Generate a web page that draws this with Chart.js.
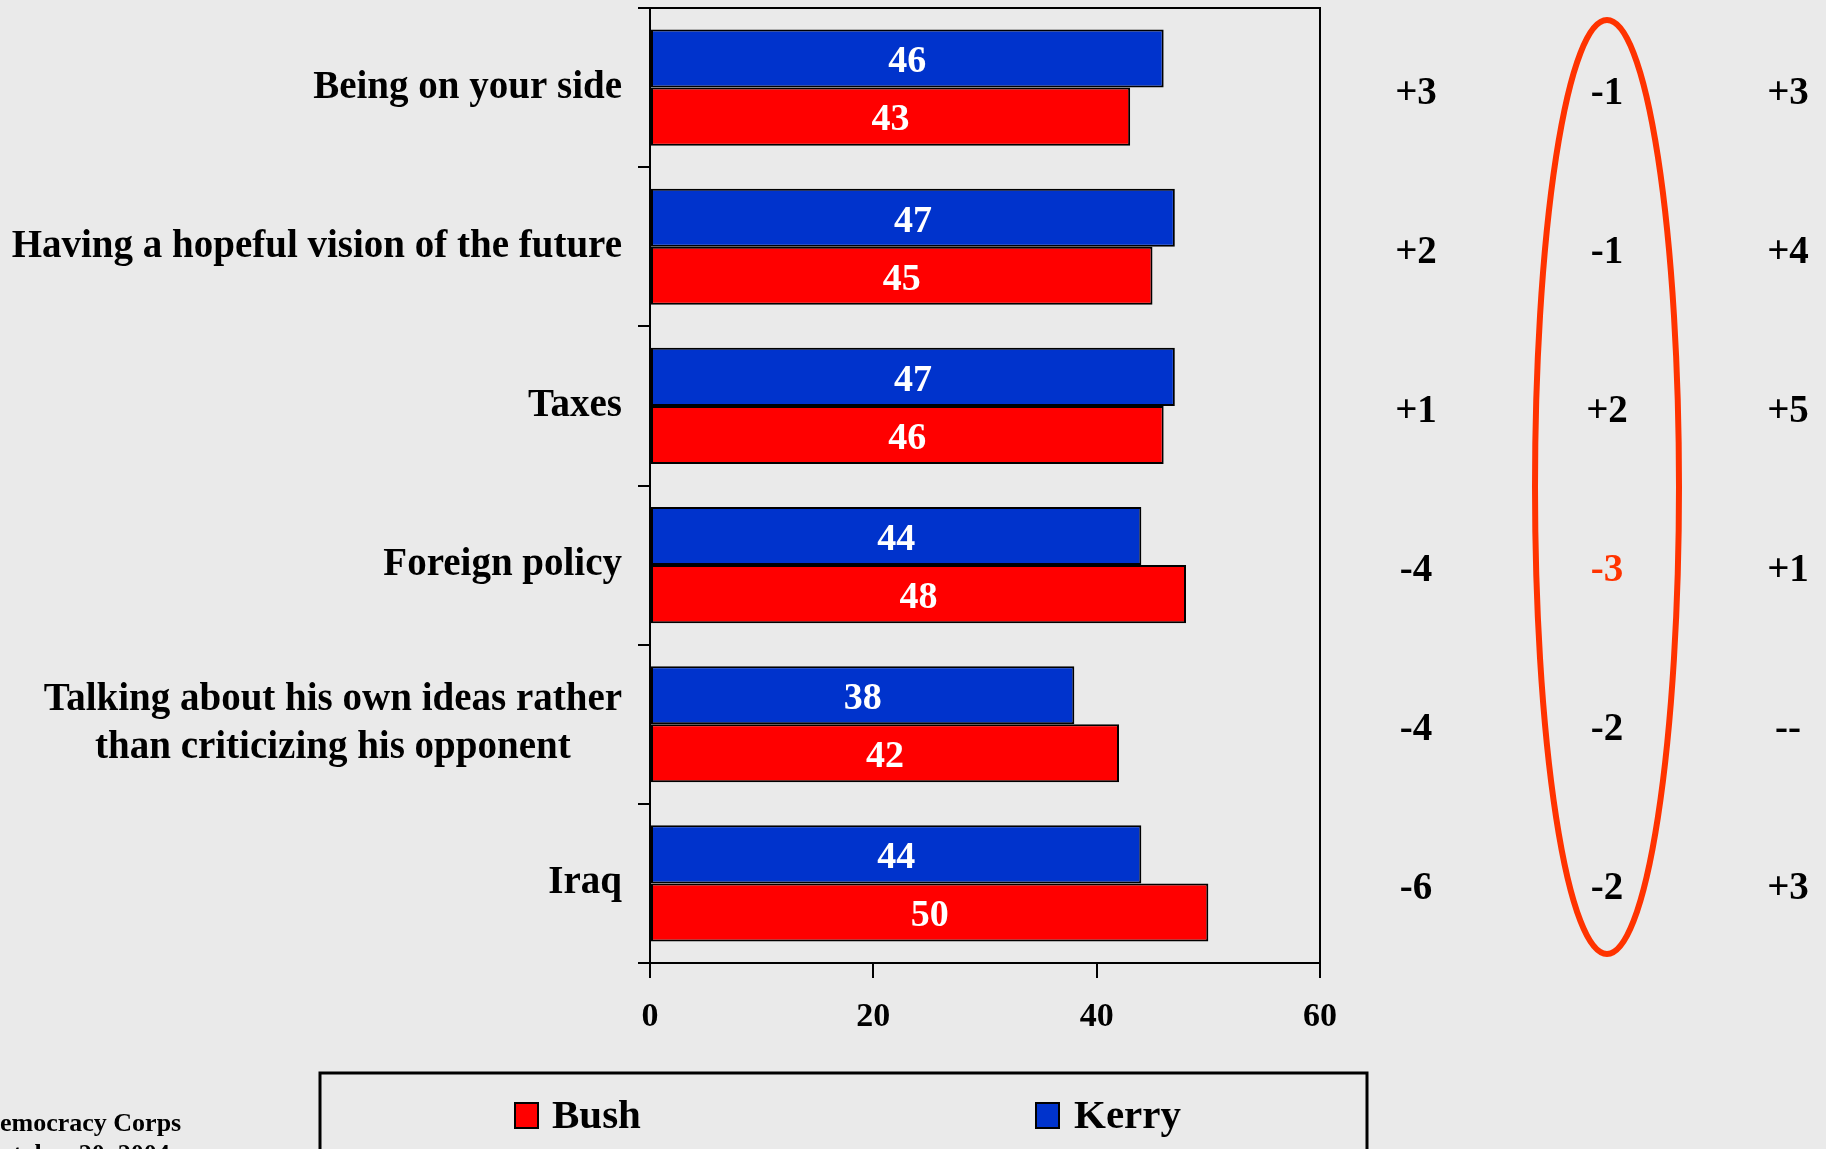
<!DOCTYPE html>
<html>
<head>
<meta charset="utf-8">
<script src="https://cdn.jsdelivr.net/npm/chart.js@4"></script>
<style>
  html, body { margin: 0; padding: 0; background: #eaeaea; overflow: hidden; }
  #wrap { width: 1826px; height: 1149px; }
</style>
</head>
<body>
<div id="wrap"><canvas id="chart" width="1826" height="1149"></canvas></div>
<script>
/* ── Data ── */
const categories = [
    'Being on your side',
    'Having a hopeful vision of the future',
    'Taxes',
    'Foreign policy',
    ['Talking about his own ideas rather', 'than criticizing his opponent'],
    'Iraq'
];
const kerryValues = [46, 47, 47, 44, 38, 44];
const bushValues = [43, 45, 46, 48, 42, 50];
const xTickValues = [0, 20, 40, 60];

// difference columns on the right
const diffCol1 = ['+3', '+2', '+1', '-4', '-4', '-6'];
const diffCol2 = ['-1', '-1', '+2', '-3', '-2', '-2'];
const diffCol3 = ['+3', '+4', '+5', '+1', '--', '+3'];
const highlightRow = 3;

const sourceLines = ['Democracy Corps', 'October 20, 2004'];

const SERIF = "'Liberation Serif', 'Times New Roman', serif";
const BLUE = '#0033cc';
const RED = '#ff0000';
const ORANGE = '#ff3300';

/* ── Custom drawing ── */
const decorPlugin = {
    id: 'decor',
    beforeDraw(chart) {
        const ctx = chart.ctx;
        ctx.save();
        ctx.fillStyle = '#eaeaea';
        ctx.fillRect(0, 0, chart.width, chart.height);
        ctx.restore();
    },
    afterDatasetsDraw(chart) {
        const ctx = chart.ctx;
        const area = chart.chartArea;
        const yScale = chart.scales.y;

        ctx.save();
        // frame
        ctx.strokeStyle = '#000';
        ctx.lineWidth = 2;
        ctx.strokeRect(area.left, area.top, area.right - area.left, area.bottom - area.top);

        // bar value labels
        ctx.fillStyle = '#fff';
        ctx.font = 'bold 38px ' + SERIF;
        ctx.textAlign = 'center';
        ctx.textBaseline = 'middle';
        chart.data.datasets.forEach((ds, di) => {
            chart.getDatasetMeta(di).data.forEach((bar, i) => {
                ctx.fillText(String(ds.data[i]), (bar.base + bar.x) / 2, bar.y + 4);
            });
        });

        // category labels
        ctx.fillStyle = '#000';
        ctx.font = 'bold 39px ' + SERIF;
        const rightEdge = area.left - 28;
        categories.forEach((cat, i) => {
            const yc = yScale.getPixelForValue(i);
            const lines = Array.isArray(cat) ? cat : [cat];
            const lh = 48;
            const blockW = Math.max(...lines.map(l => ctx.measureText(l).width));
            lines.forEach((l, k) => {
                const y = yc + (k - (lines.length - 1) / 2) * lh;
                if (lines.length > 1) {
                    ctx.textAlign = 'center';
                    ctx.fillText(l, rightEdge - blockW / 2, y);
                } else {
                    ctx.textAlign = 'right';
                    ctx.fillText(l, rightEdge, y);
                }
            });
        });

        // difference columns
        ctx.font = 'bold 39px ' + SERIF;
        ctx.textAlign = 'center';
        const cols = [[diffCol1, 1416], [diffCol2, 1607], [diffCol3, 1788]];
        cols.forEach(([vals, cx], c) => {
            vals.forEach((v, i) => {
                ctx.fillStyle = (c === 1 && i === highlightRow) ? ORANGE : '#000';
                ctx.fillText(v, cx, yScale.getPixelForValue(i) + 6);
            });
        });

        // ellipse round the middle column
        ctx.strokeStyle = ORANGE;
        ctx.lineWidth = 6;
        ctx.beginPath();
        ctx.ellipse(1607, 487, 72, 467, 0, 0, Math.PI * 2);
        ctx.stroke();

        // legend box
        ctx.strokeStyle = '#000';
        ctx.lineWidth = 3;
        ctx.strokeRect(320, 1073, 1047, 120);
        const legendItems = [
            [chart.data.datasets[1], 515, 552],
            [chart.data.datasets[0], 1036, 1074]
        ];
        legendItems.forEach(([ds, bx, tx]) => {
            ctx.fillStyle = ds.backgroundColor;
            ctx.fillRect(bx, 1103, 23, 25);
            ctx.lineWidth = 2;
            ctx.strokeRect(bx, 1103, 23, 25);
            ctx.fillStyle = '#000';
            ctx.font = 'bold 41px ' + SERIF;
            ctx.textAlign = 'left';
            ctx.fillText(ds.label, tx, 1117);
        });

        // source note
        ctx.font = 'bold 26px ' + SERIF;
        ctx.textAlign = 'left';
        ctx.fillStyle = '#000';
        const dW = ctx.measureText('D').width;
        sourceLines.forEach((l, k) => {
            ctx.fillText(l, -dW, 1124 + k * 31);
        });
        ctx.restore();
    }
};

new Chart(document.getElementById('chart'), {
    type: 'bar',
    data: {
        labels: categories,
        datasets: [
            {
                label: 'Kerry',
                data: kerryValues,
                backgroundColor: BLUE,
                borderColor: '#000',
                borderWidth: 2,
                borderSkipped: false,
                categoryPercentage: 0.73,
                barPercentage: 1.0
            },
            {
                label: 'Bush',
                data: bushValues,
                backgroundColor: RED,
                borderColor: '#000',
                borderWidth: 2,
                borderSkipped: false,
                categoryPercentage: 0.73,
                barPercentage: 1.0
            }
        ]
    },
    options: {
        indexAxis: 'y',
        responsive: false,
        animation: false,
        layout: { padding: { left: 638, right: 506, top: 8, bottom: 96 } },
        plugins: {
            legend: { display: false },
            tooltip: { enabled: false }
        },
        scales: {
            x: {
                min: 0, max: 60,
                afterBuildTicks(scale) { scale.ticks = xTickValues.map(v => ({ value: v })); },
                afterFit(scale) { scale.height = 90; },
                grid: { drawOnChartArea: false, drawTicks: true, tickLength: 15, color: '#000', lineWidth: 2 },
                border: { display: true, color: '#000', width: 2 },
                ticks: {
                    color: '#000',
                    padding: 19,
                    font: { family: SERIF, size: 34, weight: 'bold' }
                }
            },
            y: {
                afterFit(scale) { scale.width = 12; },
                grid: { offset: true, drawOnChartArea: false, drawTicks: true, tickLength: 12, color: '#000', lineWidth: 2 },
                border: { display: true, color: '#000', width: 2 },
                ticks: { display: false }
            }
        }
    },
    plugins: [decorPlugin]
});
</script>
</body>
</html>
